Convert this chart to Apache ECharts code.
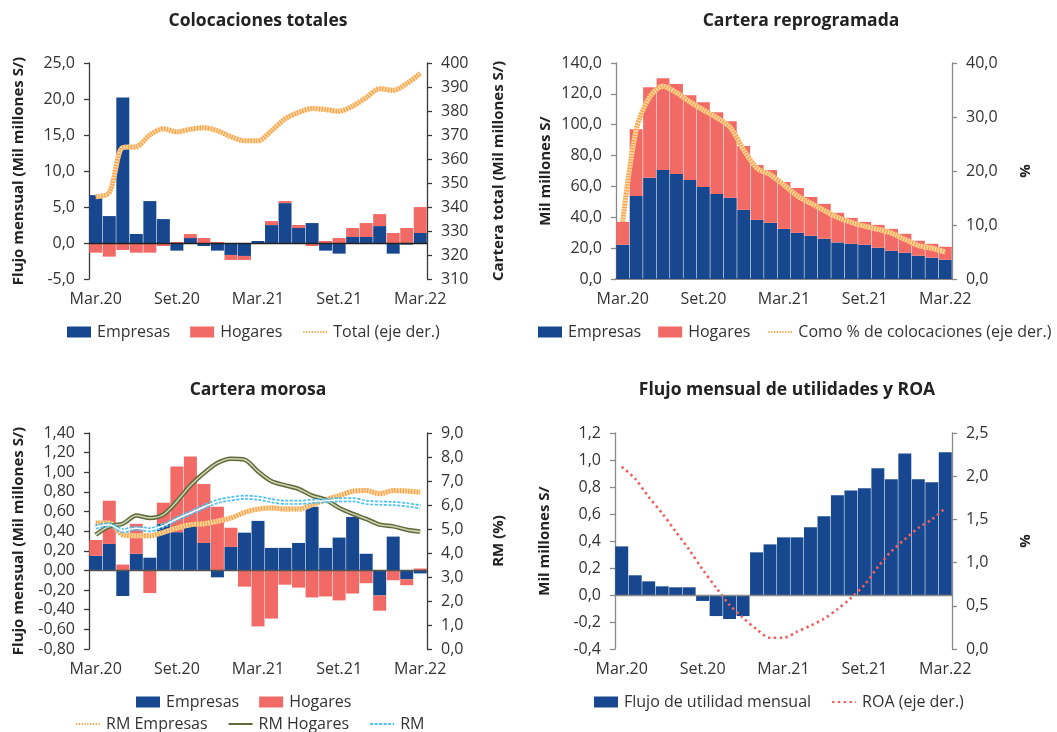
<!DOCTYPE html>
<html>
<head>
<meta charset="utf-8">
<script src="https://cdn.jsdelivr.net/npm/echarts@6/dist/echarts.min.js"></script>
<style>
html,body{margin:0;padding:0;background:#fff;}
#chart{width:1057px;height:732px;}
</style>
</head>
<body>
<div id="chart"></div>
<script>
// ---------- DATA ----------
const months = ['Mar.20','Abr.20','May.20','Jun.20','Jul.20','Ago.20','Set.20','Oct.20','Nov.20','Dic.20','Ene.21','Feb.21',
  'Mar.21','Abr.21','May.21','Jun.21','Jul.21','Ago.21','Set.21','Oct.21','Nov.21','Dic.21','Ene.22','Feb.22','Mar.22'];

// Colocaciones totales
const colEmpresas = [6.65, 3.74, 20.2, 1.25, 5.82, 3.32, -1.06, 0.69, -0.42, -1.06, -1.66, -1.8, 0.28, 2.49, 5.54, 2.08, 2.77, -1.06, -1.48, 0.83, 0.83, 2.35, -1.48, -0.23, 1.39];
const colHogares = [-1.34, -1.89, -0.97, -1.34, -1.34, -0.42, 0.14, 0.55, 0.69, 0.14, -0.69, -0.55, 0, 0.55, 0.28, 0.42, -0.42, 0.28, 0.69, 1.25, 1.94, 1.66, 1.39, 2.08, 3.6];
const colTotal = [344.3, 346, 364.8, 365.1, 370, 372.6, 371.3, 372.4, 373, 371.8, 369.3, 367.6, 367.6, 371.8, 376.7, 379.4, 381, 380.6, 379.9, 382, 385.6, 389.3, 388.6, 391.4, 395.6];

// Cartera reprogramada
const repEmpresas = [22.2, 53.8, 65.7, 70.6, 68.1, 64.2, 59.7, 55.1, 52.6, 44.8, 38.3, 36.4, 32.5, 29.9, 28, 26.1, 23.7, 22.8, 22.2, 20.2, 18.3, 17, 15.1, 13.8, 12.5];
const repHogares = [14.8, 43.3, 58.6, 59.5, 58.3, 54.9, 54.9, 53, 49.7, 41.4, 35.6, 34.2, 30.4, 29.1, 25.2, 22.6, 19.2, 16.8, 14.8, 14.9, 14.2, 12.3, 9.7, 9, 8.4];
const repPct = [10.6, 27.6, 33.7, 35.7, 34.5, 32.8, 31.3, 29.9, 28.1, 23.9, 20.5, 19.3, 17.4, 15.4, 14.0, 12.7, 11.4, 10.5, 9.8, 9.2, 8.5, 7.3, 6.2, 5.7, 5.0];

// Cartera morosa
const morEmpresas = [0.15, 0.27, -0.26, 0.17, 0.13, 0.475, 0.39, 0.475, 0.28, -0.07, 0.24, 0.385, 0.505, 0.23, 0.23, 0.28, 0.65, 0.23, 0.335, 0.545, 0.17, -0.255, 0.345, -0.09, -0.03];
const morHogares = [0.16, 0.44, 0.06, 0.305, -0.23, 0.215, 0.67, 0.685, 0.60, 0.65, 0.195, -0.165, -0.57, -0.49, -0.145, -0.175, -0.275, -0.265, -0.305, -0.235, -0.13, -0.155, -0.10, -0.06, 0.02];
const rmEmpresas = [5.25, 5.25, 4.76, 4.72, 4.72, 4.86, 5.04, 5.18, 5.22, 5.32, 5.46, 5.69, 5.83, 5.88, 5.83, 5.83, 6.01, 6.22, 6.39, 6.57, 6.6, 6.47, 6.6, 6.58, 6.53];
const rmHogares = [4.76, 5.11, 5.22, 5.56, 5.46, 5.6, 6.15, 6.81, 7.33, 7.75, 7.93, 7.89, 7.4, 6.99, 6.82, 6.67, 6.39, 6.22, 5.88, 5.63, 5.42, 5.18, 5.11, 4.97, 4.89];
const rmTotal = [5.08, 5.18, 4.93, 5.03, 4.97, 5.14, 5.42, 5.67, 5.92, 6.15, 6.26, 6.32, 6.29, 6.18, 6.11, 6.11, 6.15, 6.18, 6.22, 6.22, 6.11, 6.08, 6.06, 6.01, 5.92];

// Utilidades y ROA
const utilFlujo = [0.36, 0.146, 0.101, 0.064, 0.057, 0.057, -0.044, -0.156, -0.178, -0.156, 0.316, 0.375, 0.427, 0.427, 0.501, 0.583, 0.738, 0.775, 0.79, 0.938, 0.857, 1.049, 0.857, 0.835, 1.057];
const roa = [2.11, 1.97, 1.76, 1.57, 1.36, 1.15, 0.92, 0.71, 0.51, 0.36, 0.23, 0.13, 0.13, 0.20, 0.27, 0.35, 0.46, 0.59, 0.74, 0.95, 1.13, 1.27, 1.40, 1.50, 1.63];

const titles = ['Colocaciones totales', 'Cartera reprogramada', 'Cartera morosa', 'Flujo mensual de utilidades y ROA'];

// ---------- STYLE ----------
const FONT = 'Open Sans';
const BLUE = '#17488F';
const RED = '#F26A65';
const ORANGE = '#F6A54B';
const ORANGE_L = '#FDD6A6';
const OLIVE = '#5F6A3A';
const OLIVE_L = '#CDD2AE';
const CYAN = '#4CC0EE';
const TXT = '#333333';
const DARK = '#3a3a3a';
const GRAY = '#8a8a8a';
const NOFILL = 'rgba(0,0,0,0)';

const fmt = d => v => { if (Math.abs(v) < 1e-9) v = 0; return v.toFixed(d).replace('.', ','); };

function yAx(grid, min, max, interval, dec, name, pos, lineColor, nameGap) {
  return {
    type: 'value', gridIndex: grid, min, max, interval, position: pos,
    name, nameLocation: 'middle', nameRotate: 90, nameGap,
    nameTextStyle: {fontFamily: FONT, fontWeight: 'bold', fontSize: 15, color: '#222'},
    axisLine: {show: true, lineStyle: {color: lineColor, width: 1.3}},
    axisTick: {show: true, length: 5, lineStyle: {color: lineColor, width: 1.3}},
    axisLabel: {formatter: fmt(dec), fontFamily: FONT, fontSize: 16, color: TXT, margin: 14},
    splitLine: {show: false}
  };
}
function xAx(grid, showLine, lineColor) {
  return {
    type: 'category', gridIndex: grid, data: months, boundaryGap: true,
    axisLine: {show: showLine, onZero: false, lineStyle: {color: lineColor, width: 2}},
    axisTick: {show: false},
    axisLabel: {interval: 5, fontFamily: FONT, fontSize: 16, color: TXT, margin: 12},
    splitLine: {show: false}
  };
}
function zeroLine(color) {
  return {silent: true, symbol: 'none', label: {show: false}, animation: false,
    lineStyle: {color, width: 1.3, type: 'solid'}, data: [{yAxis: 0}]};
}
const barBase = {type: 'bar', barCategoryGap: '4%', animation: false};
const lineBase = {type: 'line', symbol: 'none', smooth: 0.3, animation: false, itemStyle: {color: NOFILL}};

const option = {
  backgroundColor: '#fff',
  textStyle: {fontFamily: FONT},
  title: [
    {text: titles[0], left: 253, top: 7, textAlign: 'center'},
    {text: titles[1], left: 796, top: 7, textAlign: 'center'},
    {text: titles[2], left: 253, top: 376, textAlign: 'center'},
    {text: titles[3], left: 782, top: 376, textAlign: 'center'}
  ].map(t => Object.assign(t, {textStyle: {fontFamily: FONT, fontWeight: 'bold', fontSize: 17.5, color: '#222'}})),
  grid: [
    {left: 89, right: 630, top: 63, bottom: 453},
    {left: 616, right: 105, top: 63, bottom: 453},
    {left: 89, right: 630, top: 433, bottom: 83},
    {left: 615, right: 105, top: 433, bottom: 83}
  ],
  xAxis: [xAx(0, false, DARK), xAx(1, true, GRAY), xAx(2, false, DARK), xAx(3, false, GRAY)],
  yAxis: [
    yAx(0, -5, 25, 5, 1, 'Flujo mensual (Mil millones S/)', 'left', DARK, 63),
    yAx(0, 310, 400, 10, 0, 'Cartera total (Mil millones S/)', 'right', DARK, 64),
    yAx(1, 0, 140, 20, 1, 'Mil millones S/', 'left', GRAY, 63),
    yAx(1, 0, 40, 10, 1, '%', 'right', GRAY, 66),
    yAx(2, -0.8, 1.4, 0.2, 2, 'Flujo mensual (Mil millones S/)', 'left', DARK, 63),
    yAx(2, 0, 9, 1, 1, 'RM (%)', 'right', DARK, 64),
    yAx(3, -0.4, 1.2, 0.2, 1, 'Mil millones S/', 'left', GRAY, 63),
    yAx(3, 0, 2.5, 0.5, 1, '%', 'right', GRAY, 66)
  ],
  legend: [
    {left: 62, top: 319, itemGap: 20, data: [{name: 'Empresas', icon: 'rect'}, {name: 'Hogares', icon: 'rect'}, 'Total (eje der.)']},
    {left: 533, top: 319, itemGap: 17, width: 560, data: [{name: 'Empresas', icon: 'rect'}, {name: 'Hogares', icon: 'rect'}, 'Como % de colocaciones (eje der.)']},
    {left: 131, top: 689, itemGap: 20, data: [{name: 'Empresas', icon: 'rect'}, {name: 'Hogares', icon: 'rect'}]},
    {left: 70, top: 711, itemGap: 20, data: ['RM Empresas', 'RM Hogares', 'RM']},
    {left: 589, top: 689, itemGap: 20, data: [{name: 'Flujo de utilidad mensual', icon: 'rect'}, 'ROA (eje der.)']}
  ].map(l => Object.assign(l, {itemWidth: 24, itemHeight: 11, selectedMode: false,
      textStyle: {fontFamily: FONT, fontSize: 16, color: TXT, padding: [0, 0, 0, 1]}})),
  series: [
    // Panel 1
    Object.assign({}, barBase, {name: 'Empresas', xAxisIndex: 0, yAxisIndex: 0, stack: 'p1', data: colEmpresas, itemStyle: {color: BLUE}}),
    Object.assign({}, barBase, {name: 'Hogares', xAxisIndex: 0, yAxisIndex: 0, stack: 'p1', data: colHogares, itemStyle: {color: RED},
      markLine: zeroLine('#222')}),
    Object.assign({}, lineBase, {name: 'total_base', xAxisIndex: 0, yAxisIndex: 1, data: colTotal, lineStyle: {color: ORANGE_L, width: 5}}),
    Object.assign({}, lineBase, {name: 'Total (eje der.)', xAxisIndex: 0, yAxisIndex: 1, data: colTotal,
      lineStyle: {color: ORANGE, width: 5, type: [1.3, 1.5]}}),
    // Panel 2
    Object.assign({}, barBase, {name: 'Empresas', xAxisIndex: 1, yAxisIndex: 2, stack: 'p2', data: repEmpresas, itemStyle: {color: BLUE}}),
    Object.assign({}, barBase, {name: 'Hogares', xAxisIndex: 1, yAxisIndex: 2, stack: 'p2', data: repHogares, itemStyle: {color: RED}}),
    Object.assign({}, lineBase, {name: 'pct_base', xAxisIndex: 1, yAxisIndex: 3, data: repPct, lineStyle: {color: ORANGE_L, width: 5}}),
    Object.assign({}, lineBase, {name: 'Como % de colocaciones (eje der.)', xAxisIndex: 1, yAxisIndex: 3, data: repPct,
      lineStyle: {color: ORANGE, width: 5, type: [1.3, 1.5]}}),
    // Panel 3
    Object.assign({}, barBase, {name: 'Empresas', xAxisIndex: 2, yAxisIndex: 4, stack: 'p3', data: morEmpresas, itemStyle: {color: BLUE}}),
    Object.assign({}, barBase, {name: 'Hogares', xAxisIndex: 2, yAxisIndex: 4, stack: 'p3', data: morHogares, itemStyle: {color: RED},
      markLine: zeroLine('#555')}),
    Object.assign({}, lineBase, {name: 'rmemp_base', xAxisIndex: 2, yAxisIndex: 5, data: rmEmpresas, lineStyle: {color: ORANGE_L, width: 5}}),
    Object.assign({}, lineBase, {name: 'RM Empresas', xAxisIndex: 2, yAxisIndex: 5, data: rmEmpresas,
      lineStyle: {color: ORANGE, width: 5, type: [1.3, 1.5]}}),
    Object.assign({}, lineBase, {name: 'RM Hogares', xAxisIndex: 2, yAxisIndex: 5, data: rmHogares,
      lineStyle: {color: OLIVE, width: 4.5}}),
    Object.assign({}, lineBase, {name: 'rmhog_inner', xAxisIndex: 2, yAxisIndex: 5, data: rmHogares, lineStyle: {color: OLIVE_L, width: 1.6}}),
    Object.assign({}, lineBase, {name: 'RM', xAxisIndex: 2, yAxisIndex: 5, data: rmTotal,
      lineStyle: {color: CYAN, width: 5, type: [3, 1.5]}}),
    Object.assign({}, lineBase, {name: 'rm_inner', xAxisIndex: 2, yAxisIndex: 5, data: rmTotal, lineStyle: {color: '#fff', width: 1.6}}),
    // Panel 4
    Object.assign({}, barBase, {name: 'Flujo de utilidad mensual', xAxisIndex: 3, yAxisIndex: 6, data: utilFlujo, itemStyle: {color: BLUE},
      markLine: zeroLine('#888')}),
    Object.assign({}, lineBase, {name: 'ROA (eje der.)', xAxisIndex: 3, yAxisIndex: 7, data: roa,
      lineStyle: {color: '#F25D5A', width: 2.6, type: [2.4, 3.4]}})
  ]
};

const chart = echarts.init(document.getElementById('chart'), null, {renderer: 'canvas'});
chart.setOption(option);
</script>
</body>
</html>
